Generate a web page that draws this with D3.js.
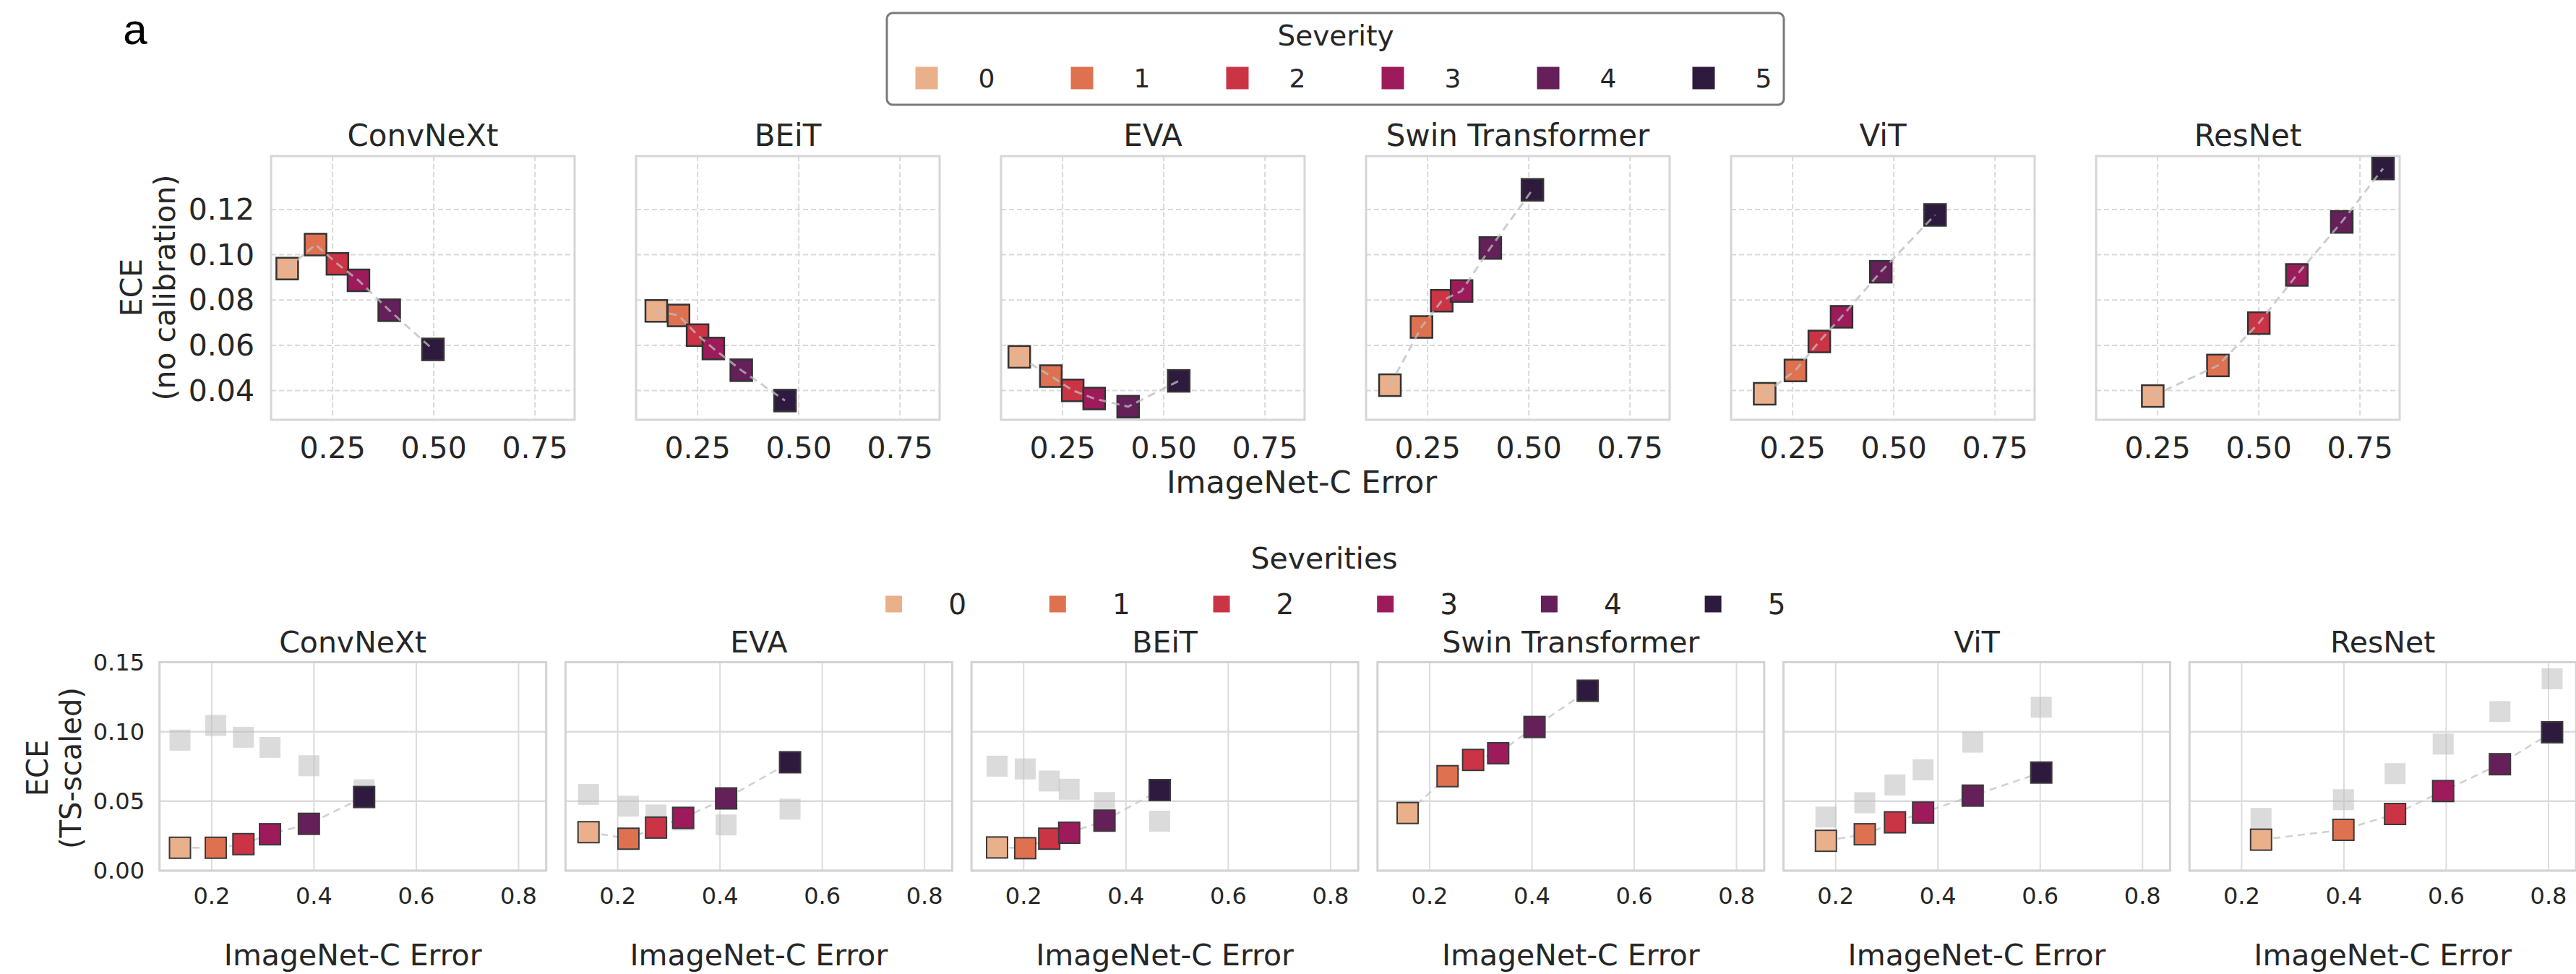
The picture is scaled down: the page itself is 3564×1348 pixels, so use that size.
<!DOCTYPE html>
<html>
<head>
<meta charset="utf-8">
<script src="https://cdn.jsdelivr.net/npm/d3@7"></script>
<style>
  html, body { margin: 0; padding: 0; background: #fff; }
  svg text { font-family: "DejaVu Sans", sans-serif; fill: #262626; }
</style>
</head>
<body>
<div id="chart"></div>
<script>
// severities and their colours (rocket palette, light -> dark)
const severities = [0, 1, 2, 3, 4, 5];
const severityColors = ['#eab08b', '#de7150', '#cb3445', '#9d1b5b', '#651f59', '#2f1a3f'];

const topModels = ['ConvNeXt', 'BEiT', 'EVA', 'Swin Transformer', 'ViT', 'ResNet'];
const bottomModels = ['ConvNeXt', 'EVA', 'BEiT', 'Swin Transformer', 'ViT', 'ResNet'];

// ImageNet-C error, one value per severity
const errConvNeXt = [0.138, 0.208, 0.262, 0.314, 0.390, 0.498];
const errBEiT     = [0.148, 0.203, 0.250, 0.289, 0.358, 0.466];
const errEVA      = [0.143, 0.221, 0.275, 0.328, 0.412, 0.537];
const errSwin     = [0.157, 0.235, 0.285, 0.334, 0.405, 0.509];
const errViT      = [0.181, 0.257, 0.316, 0.371, 0.468, 0.602];
const errResNet   = [0.238, 0.399, 0.500, 0.594, 0.705, 0.807];

// ECE, no calibration
const eceConvNeXt = [0.0939, 0.1045, 0.0960, 0.0887, 0.0755, 0.0582];
const eceBEiT     = [0.0752, 0.0732, 0.0645, 0.0586, 0.0490, 0.0356];
const eceEVA      = [0.0549, 0.0464, 0.0401, 0.0365, 0.0329, 0.0443];
const eceSwin     = [0.0424, 0.0681, 0.0797, 0.0840, 0.1030, 0.1287];
const eceViT      = [0.0386, 0.0489, 0.0617, 0.0726, 0.0925, 0.1176];
const eceResNet   = [0.0376, 0.0511, 0.0698, 0.0911, 0.1145, 0.1381];

// ECE after temperature scaling
const tsConvNeXt = [0.0165, 0.0165, 0.0191, 0.0262, 0.0337, 0.0530];
const tsBEiT     = [0.0167, 0.0162, 0.0230, 0.0273, 0.0360, 0.0580];
const tsEVA      = [0.0277, 0.0230, 0.0310, 0.0380, 0.0520, 0.0780];
const tsSwin     = [0.0415, 0.0680, 0.0797, 0.0845, 0.1034, 0.1295];
const tsViT      = [0.0215, 0.0262, 0.0348, 0.0418, 0.0540, 0.0706];
const tsResNet   = [0.0223, 0.0294, 0.0408, 0.0573, 0.0766, 0.0996];

const topXTicks = [0.25, 0.50, 0.75];
const topYTicks = [0.04, 0.06, 0.08, 0.10, 0.12];
const bottomXTicks = [0.2, 0.4, 0.6, 0.8];
const bottomYTicks = [0.00, 0.05, 0.10, 0.15];

const series = {
    'ConvNeXt': {err: errConvNeXt, ece: eceConvNeXt, ts: tsConvNeXt},
    'BEiT': {err: errBEiT, ece: eceBEiT, ts: tsBEiT},
    'EVA': {err: errEVA, ece: eceEVA, ts: tsEVA},
    'Swin Transformer': {err: errSwin, ece: eceSwin, ts: tsSwin},
    'ViT': {err: errViT, ece: eceViT, ts: tsViT},
    'ResNet': {err: errResNet, ece: eceResNet, ts: tsResNet}
};

const W = 3564, H = 1348;
const svg = d3.select('#chart').append('svg')
    .attr('width', W).attr('height', H)
    .style('display', 'block');

const color = d3.scaleOrdinal().domain(severities).range(severityColors);
const f2 = d3.format('.2f');
const f1 = d3.format('.1f');

// panel label
svg.append('text')
    .attr('x', 187).attr('y', 40)
    .attr('text-anchor', 'middle').attr('dominant-baseline', 'central')
    .style('font-family', '"Liberation Sans", Arial, sans-serif')
    .style('font-size', '60px').style('fill', '#000')
    .text('a');

// ---------- top row: no calibration ----------
const topBox = {x0: 375, step: 505, w: 420, y0: 216, h: 365};
const topY = d3.scaleLinear().domain([0.0271, 0.1436]).range([topBox.y0 + topBox.h, topBox.y0]);

topModels.forEach((m, k) => {
    const left = topBox.x0 + k * topBox.step;
    const x = d3.scaleLinear().domain([0.098, 0.848]).range([left, left + topBox.w]);
    const g = svg.append('g');
    const d = series[m];

    // grid (dashed)
    g.selectAll('.gx').data(topXTicks).enter().append('line')
        .attr('x1', v => x(v)).attr('x2', v => x(v))
        .attr('y1', topBox.y0).attr('y2', topBox.y0 + topBox.h)
        .attr('stroke', '#d9d9d9').attr('stroke-width', 2).attr('stroke-dasharray', '7,4');
    g.selectAll('.gy').data(topYTicks).enter().append('line')
        .attr('x1', left).attr('x2', left + topBox.w)
        .attr('y1', v => topY(v)).attr('y2', v => topY(v))
        .attr('stroke', '#d9d9d9').attr('stroke-width', 2).attr('stroke-dasharray', '7,4');
    g.append('rect')
        .attr('x', left).attr('y', topBox.y0).attr('width', topBox.w).attr('height', topBox.h)
        .attr('fill', 'none').attr('stroke', '#d6d6d6').attr('stroke-width', 3);

    // markers
    const pts = severities.map(i => ({s: i, x: d.err[i], y: d.ece[i]}));
    const ms = 30;
    g.selectAll('.mk').data(pts).enter().append('rect')
        .attr('x', p => x(p.x) - ms / 2).attr('y', p => topY(p.y) - ms / 2)
        .attr('width', ms).attr('height', ms)
        .attr('fill', p => color(p.s))
        .attr('stroke', '#333').attr('stroke-width', 2.5);

    // dashed connector on top
    g.append('path').datum(pts)
        .attr('d', d3.line().x(p => x(p.x)).y(p => topY(p.y)))
        .attr('fill', 'none').attr('stroke', '#bdbdbd').attr('stroke-opacity', 0.75)
        .attr('stroke-width', 3).attr('stroke-dasharray', '11,7');

    // title
    svg.append('text')
        .attr('x', left + topBox.w / 2).attr('y', 187)
        .attr('text-anchor', 'middle').attr('dominant-baseline', 'central')
        .style('font-size', '42px').text(m);

    // x tick labels
    g.selectAll('.xt').data(topXTicks).enter().append('text')
        .attr('x', v => x(v)).attr('y', 620)
        .attr('text-anchor', 'middle').attr('dominant-baseline', 'central')
        .style('font-size', '41px').text(v => f2(v));

    if (k === 0) {
        g.selectAll('.yt').data(topYTicks).enter().append('text')
            .attr('x', 352).attr('y', v => topY(v))
            .attr('text-anchor', 'end').attr('dominant-baseline', 'central')
            .style('font-size', '41px').text(v => f2(v));
    }
});

// top y label
[['ECE', 182], ['(no calibration)', 228]].forEach(([t, xx]) => {
    svg.append('text')
        .attr('transform', `translate(${xx},398) rotate(-90)`)
        .attr('text-anchor', 'middle').attr('dominant-baseline', 'central')
        .style('font-size', '41px').text(t);
});

// top x label
svg.append('text')
    .attr('x', 1801).attr('y', 667)
    .attr('text-anchor', 'middle').attr('dominant-baseline', 'central')
    .style('font-size', '43px').text('ImageNet-C Error');

// top legend
svg.append('rect')
    .attr('x', 1227).attr('y', 18).attr('width', 1241).attr('height', 127)
    .attr('rx', 8).attr('fill', '#fff').attr('stroke', '#7a7a7a').attr('stroke-width', 3);
svg.append('text')
    .attr('x', 1848).attr('y', 49)
    .attr('text-anchor', 'middle').attr('dominant-baseline', 'central')
    .style('font-size', '39px').text('Severity');
const legTop = d3.scaleLinear().domain([0, 5]).range([1282, 1282 + 5 * 215]);
svg.selectAll('.lt').data(severities).enter().append('rect')
    .attr('x', s => legTop(s) - 15.5).attr('y', 108 - 15.5)
    .attr('width', 31).attr('height', 31).attr('fill', s => color(s));
svg.selectAll('.ltt').data(severities).enter().append('text')
    .attr('x', s => legTop(s) + 83).attr('y', 108)
    .attr('text-anchor', 'middle').attr('dominant-baseline', 'central')
    .style('font-size', '36px').text(s => s);

// ---------- bottom row: TS-scaled ----------
const botBox = {x0: 220.7, step: 561.7, w: 535, y0: 916.5, h: 288.5};
const botY = d3.scaleLinear().domain([0, 0.15]).range([botBox.y0 + botBox.h, botBox.y0]);

bottomModels.forEach((m, k) => {
    const left = botBox.x0 + k * botBox.step;
    const x = d3.scaleLinear().domain([0.098, 0.854]).range([left, left + botBox.w]);
    const g = svg.append('g');
    const d = series[m];

    g.selectAll('.gx').data(bottomXTicks).enter().append('line')
        .attr('x1', v => x(v)).attr('x2', v => x(v))
        .attr('y1', botBox.y0).attr('y2', botBox.y0 + botBox.h)
        .attr('stroke', '#dcdcdc').attr('stroke-width', 2);
    g.selectAll('.gy').data(bottomYTicks).enter().append('line')
        .attr('x1', left).attr('x2', left + botBox.w)
        .attr('y1', v => botY(v)).attr('y2', v => botY(v))
        .attr('stroke', '#dcdcdc').attr('stroke-width', 2.5);
    g.append('rect')
        .attr('x', left).attr('y', botBox.y0).attr('width', botBox.w).attr('height', botBox.h)
        .attr('fill', 'none').attr('stroke', '#d3d3d3').attr('stroke-width', 3);

    const ms = 29;
    // uncalibrated ECE in grey behind
    const grey = severities.map(i => ({x: d.err[i], y: d.ece[i]}));
    g.selectAll('.gr').data(grey).enter().append('rect')
        .attr('x', p => x(p.x) - ms / 2).attr('y', p => botY(p.y) - ms / 2)
        .attr('width', ms).attr('height', ms)
        .attr('fill', '#bdbdbd').attr('fill-opacity', 0.55);

    const pts = severities.map(i => ({s: i, x: d.err[i], y: d.ts[i]}));
    g.append('path').datum(pts)
        .attr('d', d3.line().x(p => x(p.x)).y(p => botY(p.y)))
        .attr('fill', 'none').attr('stroke', '#c4c4c4').attr('stroke-opacity', 0.8)
        .attr('stroke-width', 2.5).attr('stroke-dasharray', '10,7');
    g.selectAll('.mk').data(pts).enter().append('rect')
        .attr('x', p => x(p.x) - ms / 2).attr('y', p => botY(p.y) - ms / 2)
        .attr('width', ms).attr('height', ms)
        .attr('fill', p => color(p.s))
        .attr('stroke', '#3a3a3a').attr('stroke-width', 2);

    svg.append('text')
        .attr('x', left + botBox.w / 2).attr('y', 889)
        .attr('text-anchor', 'middle').attr('dominant-baseline', 'central')
        .style('font-size', '41px').text(m);

    g.selectAll('.xt').data(bottomXTicks).enter().append('text')
        .attr('x', v => x(v)).attr('y', 1240)
        .attr('text-anchor', 'middle').attr('dominant-baseline', 'central')
        .style('font-size', '32px').text(v => f1(v));

    svg.append('text')
        .attr('x', left + botBox.w / 2).attr('y', 1322)
        .attr('text-anchor', 'middle').attr('dominant-baseline', 'central')
        .style('font-size', '41px').text('ImageNet-C Error');

    if (k === 0) {
        g.selectAll('.yt').data(bottomYTicks).enter().append('text')
            .attr('x', 200).attr('y', v => botY(v))
            .attr('text-anchor', 'end').attr('dominant-baseline', 'central')
            .style('font-size', '32px').text(v => f2(v));
    }
});

[['ECE', 52], ['(TS-scaled)', 98]].forEach(([t, xx]) => {
    svg.append('text')
        .attr('transform', `translate(${xx},1063) rotate(-90)`)
        .attr('text-anchor', 'middle').attr('dominant-baseline', 'central')
        .style('font-size', '40px').text(t);
});

// bottom legend (no frame)
svg.append('text')
    .attr('x', 1832).attr('y', 773)
    .attr('text-anchor', 'middle').attr('dominant-baseline', 'central')
    .style('font-size', '41px').text('Severities');
const legBot = d3.scaleLinear().domain([0, 5]).range([1236.6, 1236.6 + 5 * 226.7]);
svg.selectAll('.lb').data(severities).enter().append('rect')
    .attr('x', s => legBot(s) - 11.5).attr('y', 836 - 11.5)
    .attr('width', 23).attr('height', 23).attr('fill', s => color(s));
svg.selectAll('.lbt').data(severities).enter().append('text')
    .attr('x', s => legBot(s) + 88).attr('y', 836)
    .attr('text-anchor', 'middle').attr('dominant-baseline', 'central')
    .style('font-size', '39px').text(s => s);
</script>
</body>
</html>
